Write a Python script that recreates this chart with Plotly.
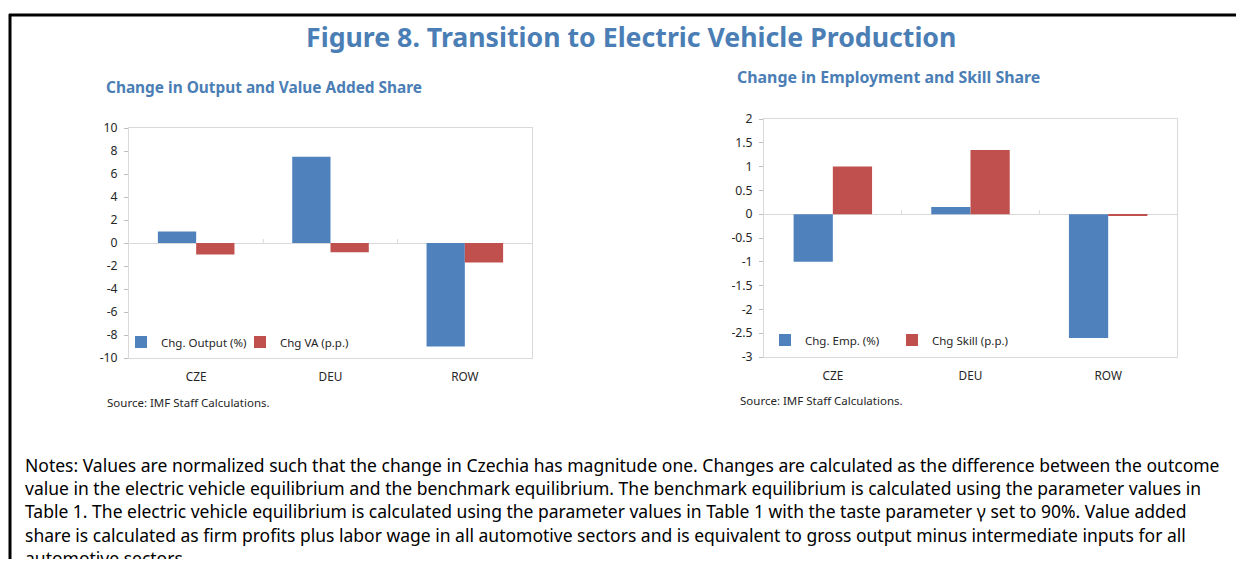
import plotly.graph_objects as go

# Figure is sized to fit inside the page's 8px body margin without scrolling
W, H = 1228, 551
OFF = 8  # page body margin

categories = ["CZE", "DEU", "ROW"]
chg_output = [1.0, 7.5, -9.0]
chg_va = [-1.0, -0.8, -1.7]
chg_emp = [-1.0, 0.15, -2.6]
chg_skill = [1.0, 1.35, -0.03]

left_ticks = [10, 8, 6, 4, 2, 0, -2, -4, -6, -8, -10]
right_ticks = [2, 1.5, 1, 0.5, 0, -0.5, -1, -1.5, -2, -2.5, -3]

title = "Figure 8. Transition to Electric Vehicle Production"
sub_left = "Change in Output and Value Added Share"
sub_right = "Change in Employment and Skill Share"
source = "Source: IMF Staff Calculations."
notes = [
    "Notes: Values are normalized such that the change in Czechia has magnitude one. Changes are calculated as the difference between the outcome",
    "value in the electric vehicle equilibrium and the benchmark equilibrium. The benchmark equilibrium is calculated using the parameter values in",
    "Table 1. The electric vehicle equilibrium is calculated using the parameter values in Table 1 with the taste parameter \u03b3 set to 90%. Value added",
    "share is calculated as firm profits plus labor wage in all automotive sectors and is equivalent to gross output minus intermediate inputs for all",
    "automotive sectors.",
]

BLUE = "#4F81BD"
RED = "#C0504D"
TITLE_C = "#4A7EB5"
TXT = "#262626"
FONT = "Noto Sans"

def px(x):
    return (x - OFF) / W

def py(y):
    return 1 - (y - OFF) / H

fig = go.Figure()
fig.add_trace(go.Bar(x=categories, y=chg_output, name="Chg. Output (%)", marker_color=BLUE,
                     xaxis="x", yaxis="y", legend="legend"))
fig.add_trace(go.Bar(x=categories, y=chg_va, name="Chg VA (p.p.)", marker_color=RED,
                     xaxis="x", yaxis="y", legend="legend"))
fig.add_trace(go.Bar(x=categories, y=chg_emp, name="Chg. Emp. (%)", marker_color=BLUE,
                     xaxis="x2", yaxis="y2", legend="legend2"))
fig.add_trace(go.Bar(x=categories, y=chg_skill, name="Chg Skill (p.p.)", marker_color=RED,
                     xaxis="x2", yaxis="y2", legend="legend2"))
fig.update_traces(marker_line_width=0)

axis_common = dict(showline=True, mirror=True, linecolor="#D9D9D9", linewidth=1,
                   showgrid=False, automargin=False)
xfont = dict(family=FONT, size=11.8, color=TXT)
yfont = dict(family=FONT, size=12.2, color=TXT)

fig.update_layout(
    width=W, height=H, margin=dict(l=0, r=0, t=0, b=0, pad=0, autoexpand=False),
    paper_bgcolor="white", plot_bgcolor="white",
    barmode="group", bargap=0.43, bargroupgap=0,
    font=dict(family=FONT, color=TXT),
    xaxis=dict(domain=[px(129), px(532)], anchor="y", range=[-0.5, 2.5], tickfont=xfont,
               ticks="outside", ticklen=8, tickcolor="rgba(0,0,0,0)", **axis_common),
    yaxis=dict(domain=[py(358), py(128)], anchor="x", range=[-10, 10], tickfont=yfont,
               tickvals=left_ticks, ticktext=[f"{v:g}" for v in left_ticks],
               ticks="outside", ticklen=4, tickcolor="#BFBFBF", ticklabelstandoff=4,
               zeroline=True, zerolinecolor="#D9D9D9", zerolinewidth=1, **axis_common),
    xaxis2=dict(domain=[px(764), px(1177)], anchor="y2", range=[-0.5, 2.5], tickfont=xfont,
                ticks="outside", ticklen=8, tickcolor="rgba(0,0,0,0)", **axis_common),
    yaxis2=dict(domain=[py(357), py(119)], anchor="x2", range=[-3, 2], tickfont=yfont,
                tickvals=right_ticks, ticktext=[f"{v:g}" for v in right_ticks],
                ticks="outside", ticklen=4, tickcolor="#BFBFBF", ticklabelstandoff=4,
                zeroline=True, zerolinecolor="#D9D9D9", zerolinewidth=1, **axis_common),
    legend=dict(x=px(121), y=py(342), xanchor="left", yanchor="middle", orientation="h",
                bgcolor="rgba(0,0,0,0)", font=dict(family=FONT, size=11.5, color=TXT),
                itemwidth=30, tracegroupgap=0, entrywidth=74, entrywidthmode="pixels"),
    legend2=dict(x=px(765), y=py(340), xanchor="left", yanchor="middle", orientation="h",
                 bgcolor="rgba(0,0,0,0)", font=dict(family=FONT, size=11.5, color=TXT),
                 itemwidth=30, tracegroupgap=0, entrywidth=82, entrywidthmode="pixels"),
)

annotations = [
    dict(text=f"<b>{title}</b>", x=px(631), y=py(37), xanchor="center", yanchor="middle",
         font=dict(family=FONT, size=26.7, color=TITLE_C)),
    dict(text=f"<b>{sub_left}</b>", x=px(104), y=py(88), xanchor="left", yanchor="middle",
         font=dict(family=FONT, size=15.4, color=TITLE_C)),
    dict(text=f"<b>{sub_right}</b>", x=px(735), y=py(77), xanchor="left", yanchor="middle",
         font=dict(family=FONT, size=15.9, color=TITLE_C)),
    dict(text=source, x=px(105), y=py(402), xanchor="left", yanchor="middle",
         font=dict(family=FONT, size=11.5, color=TXT)),
    dict(text=source, x=px(738), y=py(401), xanchor="left", yanchor="middle",
         font=dict(family=FONT, size=11.5, color=TXT)),
]
for i, line in enumerate(notes):
    annotations.append(dict(text=line, x=px(23), y=py(465 + i * 23.2), xanchor="left",
                            yanchor="middle", font=dict(family=FONT, size=17.5, color="#000000")))
for a in annotations:
    a.update(xref="paper", yref="paper", showarrow=False)
fig.update_layout(annotations=annotations)

shapes = [
    dict(type="line", xref="paper", yref="paper", x0=px(9), x1=px(1250), y0=py(15), y1=py(15),
         line=dict(color="black", width=3)),
    dict(type="line", xref="paper", yref="paper", x0=px(10), x1=px(10), y0=py(14), y1=py(580),
         line=dict(color="black", width=3)),
]
# category boundary tick marks on the zero line
for xr, yr in (("x", "y"), ("x2", "y2")):
    for b in (0.5, 1.5):
        shapes.append(dict(type="line", xref=xr, yref=yr, x0=b, x1=b, y0=0, y1=4,
                           ysizemode="pixel", yanchor=0,
                           line=dict(color="#D9D9D9", width=1)))
fig.update_layout(shapes=shapes)

fig.write_html("out.html")
